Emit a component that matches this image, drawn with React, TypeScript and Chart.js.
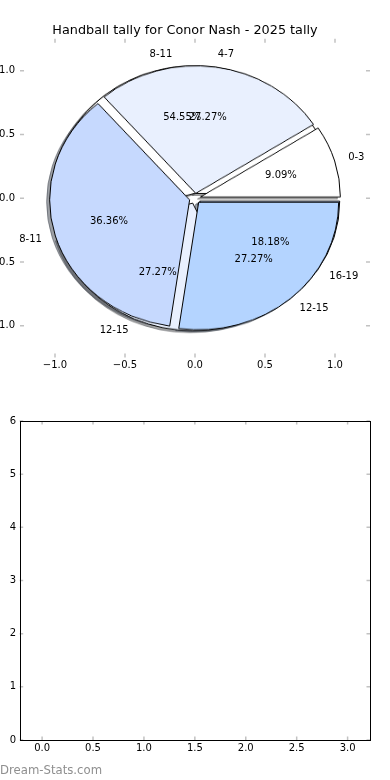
import React, { useEffect, useRef } from 'react';
import { Chart, registerables } from 'chart.js';

Chart.register(...registerables);

const FONT = '"DejaVu Sans", "Bitstream Vera Sans", sans-serif';

// ---- data ----
const TITLE = 'Handball tally for Conor Nash - 2025 tally';
const PIE1_LABELS = ['0-3', '4-7', '8-11', '12-15'];
const PIE1_VALUES = [1, 3, 4, 3];
const PIE2_LABELS = ['8-11', '12-15', '16-19'];
const PIE2_VALUES = [6, 3, 2];
const WEDGE_COLORS = ['#ffffff', '#e9f0fe', '#c6d9fe', '#b4d4ff'];
const EXPLODE = 0.04;
const LABEL_DISTANCE = 1.1;
const PCT_DISTANCE = 0.6;
const SHADOW_SHIFT = 0.02;
const PIE_AXIS_LIMIT = 1.25;
const PIE_TICKS = [-1, -0.5, 0, 0.5, 1];
const EMPTY_X_TICKS = [0, 0.5, 1, 1.5, 2, 2.5, 3];
const EMPTY_Y_TICKS = [0, 1, 2, 3, 4, 5, 6];
const EMPTY_X_RANGE = [-0.22, 3.22];
const EMPTY_Y_RANGE = [0, 6];
const WATERMARK = 'Dream-Stats.com';

const fmtTick = (v: number, digits: number) =>
  (v < 0 ? '\u2212' : '') + Math.abs(v).toFixed(digits);

const shade = (hex: string) => {
  const n = parseInt(hex.slice(1), 16);
  const r = (n >> 16) & 255, g = (n >> 8) & 255, b = n & 255;
  return `rgba(${Math.round(r * 0.3)},${Math.round(g * 0.3)},${Math.round(b * 0.3)},0.5)`;
};

const explodePlugin = {
  id: 'explode',
  beforeDatasetDraw(chart: any, args: any, opts: any) {
    const ctx = chart.ctx;
    const dist = (opts && opts.dist) || 0;
    args.meta.data.forEach((arc: any) => {
      const mid = (arc.startAngle + arc.endAngle) / 2;
      ctx.save();
      ctx.translate(Math.cos(mid) * dist, Math.sin(mid) * dist);
      arc.draw(ctx, chart.chartArea);
      ctx.restore();
    });
    return false;
  },
};

const tickMarksPlugin = {
  id: 'tickMarks',
  afterDraw(chart: any, _args: any, opts: any) {
    const { ctx, chartArea: a } = chart;
    const xs = chart.scales.x;
    const ys = chart.scales.y;
    const L = opts.length || 4;
    ctx.save();
    ctx.strokeStyle = opts.color || '#bdbdbd';
    ctx.lineWidth = opts.width || 1.5;
    ctx.beginPath();
    xs.ticks.forEach((t: any) => {
      const p = xs.getPixelForValue(t.value);
      ctx.moveTo(p, a.top);
      ctx.lineTo(p, a.top + L);
      ctx.moveTo(p, a.bottom);
      ctx.lineTo(p, a.bottom - L);
    });
    ys.ticks.forEach((t: any) => {
      const p = ys.getPixelForValue(t.value);
      ctx.moveTo(a.left, p);
      ctx.lineTo(a.left + L, p);
      ctx.moveTo(a.right, p);
      ctx.lineTo(a.right - L, p);
    });
    ctx.stroke();
    if (opts.frame) {
      ctx.strokeStyle = '#000';
      ctx.lineWidth = 1;
      const l = Math.round(a.left) + 0.5;
      const t = Math.round(a.top) + 0.5;
      const r = Math.round(a.right) + 0.5;
      const b = Math.round(a.bottom) + 0.5;
      ctx.strokeRect(l, t, r - l, b - t);
    }
    ctx.restore();
  },
};

const pieTextPlugin = {
  id: 'pieText',
  afterDraw(chart: any) {
    const { ctx } = chart;
    const xs = chart.scales.x;
    const ys = chart.scales.y;
    ctx.save();
    ctx.font = `10px ${FONT}`;
    ctx.fillStyle = '#000';
    ctx.textBaseline = 'middle';
    const pies = [
      { labels: PIE2_LABELS, values: PIE2_VALUES },
      { labels: PIE1_LABELS, values: PIE1_VALUES },
    ];
    pies.forEach(({ labels, values }) => {
      const total = values.reduce((s, v) => s + v, 0);
      let acc = 0;
      values.forEach((v, i) => {
        const theta = (2 * Math.PI * (acc + v / 2)) / total;
        acc += v;
        const c = Math.cos(theta);
        const s = Math.sin(theta);
        const lx = (EXPLODE + LABEL_DISTANCE) * c;
        const ly = (EXPLODE + LABEL_DISTANCE) * s;
        ctx.textAlign = lx > 0 ? 'left' : 'right';
        ctx.fillText(labels[i], xs.getPixelForValue(lx), ys.getPixelForValue(ly));
        const px = (EXPLODE + PCT_DISTANCE) * c;
        const py = (EXPLODE + PCT_DISTANCE) * s;
        ctx.textAlign = 'center';
        ctx.fillText(`${((100 * v) / total).toFixed(2)}%`, xs.getPixelForValue(px), ys.getPixelForValue(py));
      });
    });
    ctx.restore();
  },
};

const watermarkPlugin = {
  id: 'watermark',
  afterDraw(chart: any) {
    const { ctx } = chart;
    ctx.save();
    ctx.font = `11.7px ${FONT}`;
    ctx.fillStyle = '#8f8f8f';
    ctx.textAlign = 'left';
    ctx.textBaseline = 'alphabetic';
    ctx.fillText(WATERMARK, 0, chart.height - 6.5);
    ctx.restore();
  },
};

function makePie(
  canvas: HTMLCanvasElement,
  values: number[],
  labels: string[],
  fills: string[],
  strokes: string[],
  explodePx: number,
  radius: number
) {
  return new Chart(canvas, {
    type: 'pie',
    data: {
      labels: [...labels].reverse(),
      datasets: [
        {
          data: [...values].reverse(),
          backgroundColor: [...fills].reverse(),
          borderColor: [...strokes].reverse(),
          borderWidth: 1,
          borderJoinStyle: 'miter',
          hoverOffset: 0,
          rotation: 90,
          radius,
        } as any,
      ],
    },
    options: {
      responsive: false,
      maintainAspectRatio: false,
      animation: false,
      devicePixelRatio: 1,
      events: [],
      rotation: 90,
      radius,
      layout: { padding: 0 },
      plugins: {
        legend: { display: false },
        tooltip: { enabled: false },
        title: { display: false },
        explode: { dist: explodePx },
      } as any,
    } as any,
    plugins: [explodePlugin as any],
  });
}

export default function App() {
  const overlayRef = useRef<HTMLCanvasElement>(null);
  const pie1Ref = useRef<HTMLCanvasElement>(null);
  const pie2Ref = useRef<HTMLCanvasElement>(null);
  const sh1Ref = useRef<HTMLCanvasElement>(null);
  const sh2Ref = useRef<HTMLCanvasElement>(null);
  const bottomRef = useRef<HTMLCanvasElement>(null);

  useEffect(() => {
    document.body.style.margin = '0';
    Chart.defaults.font.family = FONT;
    Chart.defaults.color = '#000';
    const charts: Chart[] = [];

    const overlay = new Chart(overlayRef.current!, {
      type: 'scatter',
      data: { datasets: [{ data: [] }] },
      options: {
        responsive: false,
        maintainAspectRatio: false,
        animation: false,
        devicePixelRatio: 1,
        events: [],
        layout: { padding: { left: 0, right: 20, top: 0, bottom: 0 } },
        plugins: {
          legend: { display: false },
          tooltip: { enabled: false },
          title: {
            display: true,
            text: TITLE,
            color: '#000',
            font: { family: FONT, size: 12.8, weight: 'normal', lineHeight: 1.2 },
            padding: { top: 22.6, bottom: 0.84 },
          },
          tickMarks: { length: 4, color: '#c2c2c2', width: 1.5, frame: false },
        } as any,
        scales: {
          x: {
            type: 'linear',
            min: -PIE_AXIS_LIMIT,
            max: PIE_AXIS_LIMIT,
            afterBuildTicks: (s: any) => {
              s.ticks = PIE_TICKS.map((v) => ({ value: v }));
            },
            afterFit: (s: any) => {
              s.height = 32.4;
            },
            grid: { display: false, drawTicks: false },
            border: { display: false },
            ticks: {
              autoSkip: false,
              maxRotation: 0,
              padding: 2,
              color: '#000',
              font: { family: FONT, size: 10 },
              callback: (v: any) => fmtTick(Number(v), 1),
            },
          },
          y: {
            type: 'linear',
            min: -PIE_AXIS_LIMIT,
            max: PIE_AXIS_LIMIT,
            afterBuildTicks: (s: any) => {
              s.ticks = PIE_TICKS.map((v) => ({ value: v }));
            },
            afterFit: (s: any) => {
              s.width = 20;
            },
            grid: { display: false, drawTicks: false },
            border: { display: false },
            ticks: {
              autoSkip: false,
              padding: 5,
              color: '#000',
              font: { family: FONT, size: 10 },
              callback: (v: any) => fmtTick(Number(v), 1),
            },
          },
        },
      } as any,
      plugins: [tickMarksPlugin as any, pieTextPlugin as any],
    });
    charts.push(overlay);

    const xs: any = overlay.scales.x;
    const ys: any = overlay.scales.y;
    const cx = xs.getPixelForValue(0);
    const cy = ys.getPixelForValue(0);
    const rx = xs.getPixelForValue(1) - cx;
    const ry = cy - ys.getPixelForValue(1);
    const k = ry / rx;
    const S = Math.round(rx * 2 * PIE_AXIS_LIMIT);

    const place = (cv: HTMLCanvasElement, dx: number, dy: number) => {
      cv.width = S;
      cv.height = S;
      cv.style.position = 'absolute';
      cv.style.left = `${cx - S / 2 + dx}px`;
      cv.style.top = `${cy - (S / 2) * k + dy}px`;
      cv.style.transformOrigin = '0 0';
      cv.style.transform = `scaleY(${k})`;
    };

    const shDx = -SHADOW_SHIFT * rx;
    const shDy = SHADOW_SHIFT * ry;
    const explodePx = EXPLODE * rx;

    const pie1Fills = WEDGE_COLORS.slice(0, PIE1_VALUES.length);
    const pie2Fills = WEDGE_COLORS.slice(0, PIE2_VALUES.length);

    place(sh2Ref.current!, shDx, shDy);
    place(sh1Ref.current!, shDx, shDy);
    place(pie2Ref.current!, 0, 0);
    place(pie1Ref.current!, 0, 0);

    charts.push(
      makePie(sh2Ref.current!, PIE2_VALUES, PIE2_LABELS, pie2Fills.map(shade), pie2Fills.map(shade), explodePx, rx)
    );
    charts.push(
      makePie(sh1Ref.current!, PIE1_VALUES, PIE1_LABELS, pie1Fills.map(shade), pie1Fills.map(shade), explodePx, rx)
    );
    charts.push(
      makePie(pie2Ref.current!, PIE2_VALUES, PIE2_LABELS, pie2Fills, pie2Fills.map(() => '#000'), explodePx, rx)
    );
    charts.push(
      makePie(pie1Ref.current!, PIE1_VALUES, PIE1_LABELS, pie1Fills, pie1Fills.map(() => '#000'), explodePx, rx)
    );

    const bottom = new Chart(bottomRef.current!, {
      type: 'scatter',
      data: { datasets: [{ data: [] }] },
      options: {
        responsive: false,
        maintainAspectRatio: false,
        animation: false,
        devicePixelRatio: 1,
        events: [],
        layout: { padding: { left: 0, right: 20, top: 31, bottom: 0 } },
        plugins: {
          legend: { display: false },
          tooltip: { enabled: false },
          title: { display: false },
          tickMarks: { length: 3.5, color: '#c2c2c2', width: 1.5, frame: true },
        } as any,
        scales: {
          x: {
            type: 'linear',
            min: EMPTY_X_RANGE[0],
            max: EMPTY_X_RANGE[1],
            afterBuildTicks: (s: any) => {
              s.ticks = EMPTY_X_TICKS.map((v) => ({ value: v }));
            },
            afterFit: (s: any) => {
              s.height = 40;
            },
            grid: { display: false, drawTicks: false },
            border: { display: false },
            ticks: {
              autoSkip: false,
              maxRotation: 0,
              padding: 2.2,
              color: '#000',
              font: { family: FONT, size: 10 },
              callback: (v: any) => fmtTick(Number(v), 1),
            },
          },
          y: {
            type: 'linear',
            min: EMPTY_Y_RANGE[0],
            max: EMPTY_Y_RANGE[1],
            afterBuildTicks: (s: any) => {
              s.ticks = EMPTY_Y_TICKS.map((v) => ({ value: v }));
            },
            afterFit: (s: any) => {
              s.width = 19.7;
            },
            grid: { display: false, drawTicks: false },
            border: { display: false },
            ticks: {
              autoSkip: false,
              padding: 3.5,
              color: '#000',
              font: { family: FONT, size: 10 },
              callback: (v: any) => fmtTick(Number(v), 0),
            },
          },
        },
      } as any,
      plugins: [tickMarksPlugin as any, watermarkPlugin as any],
    });
    charts.push(bottom);

    return () => {
      charts.forEach((c) => c.destroy());
    };
  }, []);

  const abs: React.CSSProperties = { position: 'absolute', left: 0, top: 0 };
  return (
    <div style={{ position: 'relative', width: 390, height: 780, background: '#fff', overflow: 'hidden' }}>
      <canvas ref={sh2Ref} style={abs} />
      <canvas ref={sh1Ref} style={abs} />
      <canvas ref={pie2Ref} style={abs} />
      <canvas ref={pie1Ref} style={abs} />
      <canvas
        ref={overlayRef}
        width={390}
        height={390}
        style={{ position: 'absolute', left: 0, top: 0, width: 390, height: 390 }}
      />
      <canvas
        ref={bottomRef}
        width={390}
        height={390}
        style={{ position: 'absolute', left: 0, top: 390, width: 390, height: 390 }}
      />
    </div>
  );
}
